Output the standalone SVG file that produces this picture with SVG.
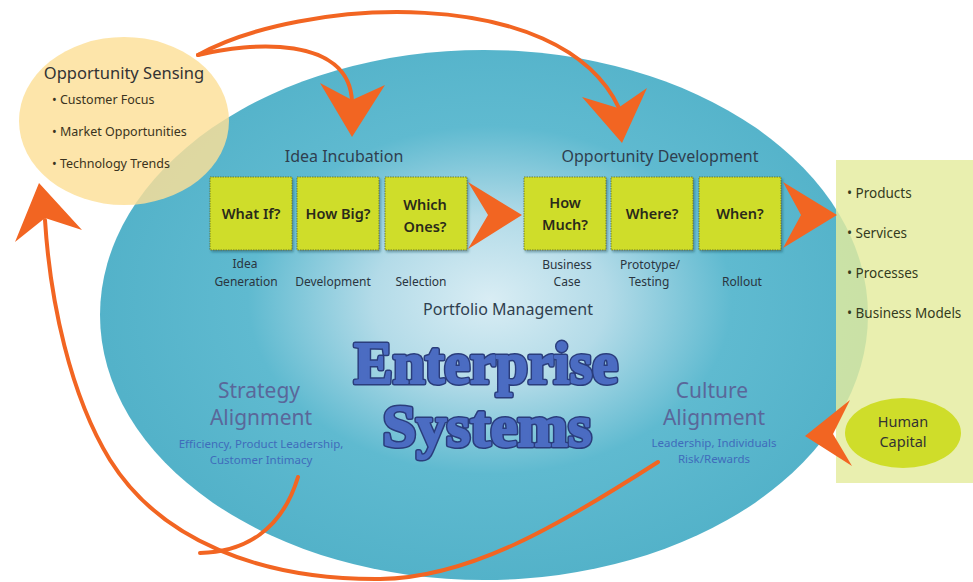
<svg xmlns="http://www.w3.org/2000/svg" width="973" height="582" viewBox="0 0 973 582">
  <defs>
    <radialGradient id="coreFill" gradientUnits="userSpaceOnUse" cx="490" cy="300" r="390" gradientTransform="translate(490 300) scale(1 0.72) translate(-490 -300)">
      <stop offset="0" stop-color="#d9edf4"/>
      <stop offset="0.3" stop-color="#b3dbe8"/>
      <stop offset="0.62" stop-color="#5fbad0"/>
      <stop offset="1" stop-color="#53b2c9"/>
    </radialGradient>
    <filter id="boxShadow" x="-10%" y="-10%" width="125%" height="125%">
      <feDropShadow dx="1.5" dy="2" stdDeviation="1.2" flood-color="#1d4a5a" flood-opacity="0.45"/>
    </filter>
  </defs>
  <style>
    text { font-family: "Noto Sans", "Open Sans", "Liberation Sans", sans-serif; }
    .dark { fill: #333333; }
    .step { fill: #cfdd2a; stroke: #5d6a1e; stroke-width: 0.8; stroke-dasharray: 1.5 1; filter: url(#boxShadow); }
    .stepText { font-size: 14.5px; font-weight: 600; fill: #2a2a1a; text-anchor: middle; }
    .phase { font-size: 16px; fill: #2f3f4f; text-anchor: middle; }
    .sub { font-size: 12px; fill: #2a3540; text-anchor: middle; }
    .bullet { font-size: 12.5px; fill: #3a3320; }
    .out { font-size: 13.5px; fill: #333a20; }
    .align { font-size: 21px; fill: #5a679a; text-anchor: middle; }
    .alignSub { font-size: 11.5px; fill: #3f6cbb; text-anchor: middle; }
    .flow { fill: none; stroke: #f26522; stroke-width: 4; stroke-linecap: round; }
    .head { fill: #f26522; }
    .big { font-family: "Liberation Serif", "DejaVu Serif", serif; font-weight: bold; font-size: 60px; text-anchor: middle; }
    .bigEdge { fill: #2a3d7c; stroke: #2a3d7c; stroke-width: 5; stroke-linejoin: round; }
    .bigFace { fill: #4b6cc2; stroke: #4b6cc2; stroke-width: 2; stroke-linejoin: round; }
  </style>

  <!-- central enterprise ellipse -->
  <g id="enterprise">
    <ellipse cx="484" cy="315" rx="384" ry="265" fill="url(#coreFill)"/>
    <text class="big bigEdge" x="486" y="383" textLength="264" lengthAdjust="spacingAndGlyphs">Enterprise</text>
    <text class="big bigFace" x="486" y="383" textLength="264" lengthAdjust="spacingAndGlyphs">Enterprise</text>
    <text class="big bigEdge" x="487" y="446" textLength="209" lengthAdjust="spacingAndGlyphs">Systems</text>
    <text class="big bigFace" x="487" y="446" textLength="209" lengthAdjust="spacingAndGlyphs">Systems</text>
    <text class="phase" x="508" y="315">Portfolio Management</text>
  </g>

  <!-- opportunity sensing bubble -->
  <g id="opportunity-sensing">
    <ellipse cx="124" cy="121" rx="105" ry="84" fill="#fddf97" fill-opacity="0.82"/>
    <text class="dark" x="124" y="79" text-anchor="middle" style="font-size:16.5px">Opportunity Sensing</text>
    <text class="bullet" x="52" y="104">• Customer Focus</text>
    <text class="bullet" x="52" y="136">• Market Opportunities</text>
    <text class="bullet" x="52" y="168">• Technology Trends</text>
  </g>

  <!-- outputs panel -->
  <g id="outputs">
    <rect x="836" y="160" width="137" height="323" fill="#e4ec9d" fill-opacity="0.82"/>
    <text class="out" x="847" y="198">• Products</text>
    <text class="out" x="847" y="238">• Services</text>
    <text class="out" x="847" y="278">• Processes</text>
    <text class="out" x="847" y="318">• Business Models</text>
  </g>

  <g id="human-capital">
    <ellipse cx="903" cy="433" rx="58" ry="35" fill="#cfdd2a"/>
    <text class="dark" x="903" y="427" text-anchor="middle" style="font-size:14.5px">Human</text>
    <text class="dark" x="903" y="447" text-anchor="middle" style="font-size:14.5px">Capital</text>
  </g>

  <!-- idea incubation steps -->
  <g id="idea-incubation">
    <text class="phase" x="344" y="162">Idea Incubation</text>
  </g>
  <g id="what-if">
    <rect class="step" x="210" y="177" width="82" height="73"/>
    <text class="stepText" x="251" y="219">What If?</text>
    <text class="sub" x="245" y="268">Idea</text>
    <text class="sub" x="246" y="286">Generation</text>
  </g>
  <g id="how-big">
    <rect class="step" x="297" y="177" width="82" height="73"/>
    <text class="stepText" x="338" y="219">How Big?</text>
    <text class="sub" x="333" y="286">Development</text>
  </g>
  <g id="which-ones">
    <rect class="step" x="385" y="177" width="82" height="73"/>
    <text class="stepText" x="425" y="210">Which</text>
    <text class="stepText" x="425" y="232">Ones?</text>
    <text class="sub" x="421" y="286">Selection</text>
  </g>

  <!-- opportunity development steps -->
  <g id="opportunity-development">
    <text class="phase" x="660" y="162">Opportunity Development</text>
  </g>
  <g id="how-much">
    <rect class="step" x="524" y="177" width="82" height="73"/>
    <text class="stepText" x="565" y="208">How</text>
    <text class="stepText" x="565" y="230">Much?</text>
    <text class="sub" x="567" y="269">Business</text>
    <text class="sub" x="567" y="286">Case</text>
  </g>
  <g id="where">
    <rect class="step" x="611" y="177" width="82" height="73"/>
    <text class="stepText" x="652" y="219">Where?</text>
    <text class="sub" x="650" y="269">Prototype/</text>
    <text class="sub" x="649" y="286">Testing</text>
  </g>
  <g id="when">
    <rect class="step" x="699" y="177" width="82" height="73"/>
    <text class="stepText" x="740" y="219">When?</text>
    <text class="sub" x="742" y="286">Rollout</text>
  </g>

  <!-- alignment labels -->
  <g id="strategy-alignment">
    <text class="align" x="259" y="398">Strategy</text>
    <text class="align" x="261" y="425">Alignment</text>
    <text class="alignSub" x="261" y="448">Efficiency, Product Leadership,</text>
    <text class="alignSub" x="261" y="464">Customer Intimacy</text>
  </g>
  <g id="culture-alignment">
    <text class="align" x="712" y="398">Culture</text>
    <text class="align" x="714" y="425">Alignment</text>
    <text class="alignSub" x="714" y="447">Leadership, Individuals</text>
    <text class="alignSub" x="714" y="463">Risk/Rewards</text>
  </g>

  <!-- connectors -->
  <g id="connectors">
    <path class="flow" d="M198,55 C250,42 350,35 352,102"/>
    <path class="head" d="M320,83 L352,100 L385,85 L352,137 Z"/>
    <path class="flow" d="M198,55 C300,-2 560,-18 619,108"/>
    <path class="head" d="M582,97 L618,108 L647,88 L622,143 Z"/>

    <path class="head" d="M468,182 L522,215 L468,249 L488,215 Z"/>
    <path class="head" d="M783,182 L837,215 L783,248 L801,215 Z"/>
    <path class="head" d="M850,400 L805,436 L852,466 L833,434 Z"/>

    <path class="flow" d="M658,462 C560,525 470,578 380,579 C260,580 160,540 110,460 C70,395 50,300 45,220"/>
    <path class="flow" d="M298,477 C282,530 245,552 200,553"/>
    <path class="head" d="M39,183 L82,230 L45,218 L15,242 Z"/>
  </g>
</svg>
